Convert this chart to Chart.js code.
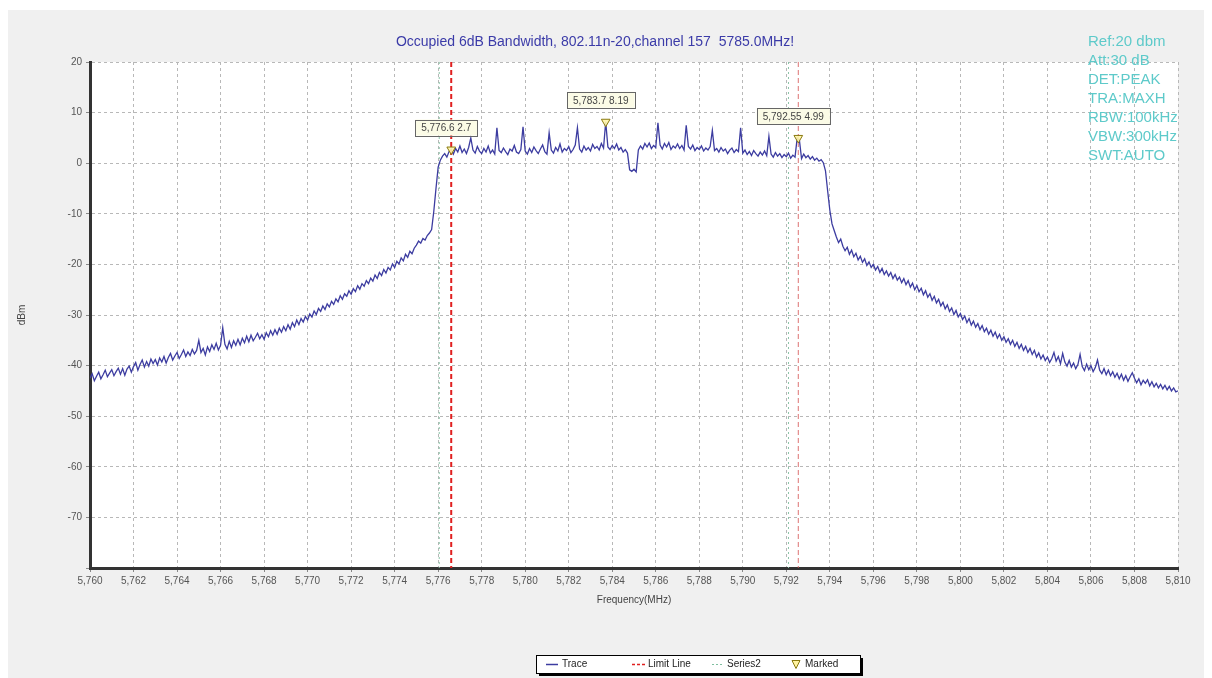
<!DOCTYPE html>
<html>
<head>
<meta charset="utf-8">
<script src="https://cdn.jsdelivr.net/npm/chart.js@4.4.0/dist/chart.umd.min.js"></script>
<style>
  html, body { margin: 0; padding: 0; background: #fff; }
  #wrap { position: absolute; left: 0; top: 0; width: 1212px; height: 678px; }
</style>
</head>
<body>
<div id="wrap"><canvas id="spectrum" width="1212" height="678"></canvas></div>
<script>
// trace sampled every 0.1 MHz from 5760.0 to 5810.0 (one row = 1 MHz)
const freqStart = 5760;
const freqStep = 0.1;
const traceDbm = [
  -42.5, -41.6, -43.0, -42.1, -41.3, -42.6, -41.8, -40.9, -42.2, -41.5,
  -40.8, -42.0, -41.2, -40.5, -41.7, -40.6, -41.9, -40.7, -40.1, -41.3,
  -40.2, -39.4, -40.9, -39.8, -38.9, -40.3, -39.2, -40.1, -38.7, -39.6,
  -38.8, -39.9, -38.5, -39.3, -38.2, -39.5, -38.4, -37.6, -38.9, -38.1,
  -37.4, -38.6, -37.8, -36.9, -38.2, -37.3, -38.0, -36.8, -37.7, -37.0,
  -35.0, -37.4, -36.6, -37.9, -36.3, -37.2, -35.9, -36.8, -35.6, -36.9,
  -36.0, -32.5, -35.8, -36.7, -35.2, -36.4, -35.1, -36.0, -34.8, -35.9,
  -34.6, -35.5, -34.2, -35.3, -34.0, -35.1, -34.4, -33.6, -34.7, -33.9,
  -34.8, -33.5, -34.3, -33.1, -34.0, -32.9, -33.8, -32.6, -33.4, -32.3,
  -33.1, -31.9, -32.8, -31.5, -32.3, -31.0, -31.9, -30.7, -31.4, -30.3,
  -31.0, -29.8, -30.4, -29.2, -29.9, -28.7, -29.3, -28.2, -28.9, -27.8,
  -28.4, -27.3, -27.9, -26.8, -27.4, -26.2, -26.9, -25.8, -26.3, -25.2,
  -25.9, -24.8, -25.4, -24.2, -24.9, -23.8, -24.3, -23.2, -23.8, -22.7,
  -23.3, -22.1, -22.8, -21.6, -22.2, -21.0, -21.7, -20.6, -21.1, -19.9,
  -20.6, -19.4, -19.9, -18.7, -19.3, -18.0, -18.6, -17.4, -17.9, -16.8,
  -16.2, -15.4, -15.8, -14.9, -15.2, -14.3, -13.8, -13.1, -9.5, -5.0,
  -0.8, 0.6, 1.4, 1.9, 1.2, 2.3, 2.7, 1.8, 2.9, 2.2,
  3.4, 2.1, 2.8, 1.9, 3.1, 5.0, 2.6, 2.0, 3.3, 2.4,
  1.9, 2.9, 2.2, 3.4, 2.0, 2.6, 1.8, 7.0, 2.5, 2.1,
  3.0, 2.3, 1.7, 2.8, 2.4, 3.5, 2.2, 1.9, 2.7, 7.2,
  2.4, 1.8, 2.9, 2.1, 3.2, 2.5, 1.9, 2.8, 3.6, 2.3,
  1.8, 6.0, 2.6, 2.0, 3.1, 2.4, 3.8, 2.2, 2.9, 2.5,
  3.3, 2.1, 2.7, 3.6, 7.0, 2.8, 2.2, 3.4, 2.6, 3.1,
  2.4, 3.7, 2.9, 3.3, 2.6, 3.9, 3.0, 8.19, 3.2, 2.7,
  3.5, 2.9, 3.8, 2.6, 3.1, 2.2, 2.7, 2.0, -1.3, -1.6,
  -1.2, -1.7, 2.6, 3.4, 2.8, 3.9, 3.2, 4.0, 2.9, 3.5,
  3.1, 8.0, 3.6, 2.8, 3.9, 3.2, 4.1, 2.7, 3.4, 3.0,
  3.8, 2.9, 3.5, 2.6, 7.5, 3.3, 2.8, 3.6, 2.5, 3.1,
  2.7, 3.4, 2.4, 3.0, 2.6, 3.3, 6.5, 2.5, 2.9, 2.2,
  3.1, 2.4, 2.8, 1.9, 2.6, 3.0, 2.1, 2.7, 2.3, 7.0,
  2.0, 2.6, 1.7, 2.3, 1.5, 2.5, 1.9, 1.4, 2.2, 1.6,
  2.4, 1.5, 5.3, 1.8, 1.2, 2.1, 1.4, 1.9, 1.1, 1.7,
  1.3, 2.0, 1.0, 1.6, 1.2, 4.99, 4.6, 0.9, 1.8, 1.1,
  1.5, 0.8, 1.3, 0.6, 1.0, 0.4, 0.7, 0.1, -1.5, -5.5,
  -9.3, -12.0, -13.3, -14.6, -15.7, -15.0, -16.4, -17.3, -16.6, -18.0,
  -17.2, -18.5, -17.8, -19.1, -18.4, -19.6, -18.9, -20.2, -19.5, -20.6,
  -20.0, -21.1, -20.4, -21.6, -20.8, -22.0, -21.3, -22.3, -21.6, -22.8,
  -22.0, -23.1, -22.5, -23.6, -22.8, -24.0, -23.2, -24.5, -23.7, -25.0,
  -24.2, -25.4, -24.7, -26.0, -25.2, -26.5, -25.8, -27.1, -26.3, -27.6,
  -26.9, -28.2, -27.5, -28.8, -28.0, -29.3, -28.6, -29.9, -29.1, -30.4,
  -29.7, -30.9, -30.2, -31.5, -30.7, -32.0, -31.2, -32.4, -31.7, -32.9,
  -32.1, -33.3, -32.6, -33.8, -33.0, -34.2, -33.4, -34.6, -33.8, -35.0,
  -34.3, -35.4, -34.7, -35.8, -35.0, -36.2, -35.4, -36.6, -35.8, -37.0,
  -36.2, -37.4, -36.6, -37.8, -37.0, -38.3, -37.5, -38.7, -37.9, -39.0,
  -38.3, -39.4, -38.6, -37.4, -39.1, -38.2, -39.6, -37.6, -39.3, -40.1,
  -39.0, -40.3, -39.5, -40.6, -39.8, -37.8, -40.2, -41.0, -39.7, -40.8,
  -40.0, -41.2, -40.4, -38.9, -40.9, -41.6, -40.6, -41.8, -40.9, -42.0,
  -41.2, -42.3, -41.5, -42.6, -41.7, -42.9, -42.0, -43.1, -42.2, -41.4,
  -42.5, -43.4, -42.6, -43.8, -42.9, -43.5, -42.8, -44.0, -43.2, -44.2,
  -43.5, -44.4, -43.7, -44.6, -43.9, -44.8, -44.1, -45.0, -44.4, -45.2,
  -45.0
];

const limitFreqs = [5776.6, 5792.55];
const series2Freqs = [5776.05, 5792.1];
const markerFreqs = [5776.6, 5783.7, 5792.55];
const markerDbm = [2.7, 8.19, 4.99];
const markerText = ['5,776.6 2.7', '5,783.7 8.19', '5,792.55 4.99'];

const xTicks = [5760, 5762, 5764, 5766, 5768, 5770, 5772, 5774, 5776, 5778, 5780, 5782, 5784,
  5786, 5788, 5790, 5792, 5794, 5796, 5798, 5800, 5802, 5804, 5806, 5808, 5810];
const yTicks = [20, 10, 0, -10, -20, -30, -40, -50, -60, -70, -80];

const titleText = 'Occupied 6dB Bandwidth, 802.11n-20,channel 157  5785.0MHz!';
const infoLines = ['Ref:20 dbm', 'Att:30 dB', 'DET:PEAK', 'TRA:MAXH', 'RBW:100kHz', 'VBW:300kHz', 'SWT:AUTO'];

const FONT = '"Liberation Sans", Arial, sans-serif';

const tracePoints = traceDbm.map((v, i) => ({ x: +(freqStart + i * freqStep).toFixed(2), y: v }));

function vLines(freqs) {
  const pts = [];
  freqs.forEach((f, i) => {
    if (i > 0) pts.push({ x: f, y: null });
    pts.push({ x: f, y: 20 }, { x: f, y: -80 });
  });
  return pts;
}

const fmt = v => v.toLocaleString('en-US');

const decorPlugin = {
  id: 'decor',
  beforeDraw(chart) {
    const c = chart.ctx, a = chart.chartArea;
    c.save();
    c.fillStyle = '#ffffff';
    c.fillRect(0, 0, chart.width, chart.height);
    c.fillStyle = '#f0f0f0';
    c.fillRect(8, 10, 1196, 668);
    c.fillStyle = '#ffffff';
    c.fillRect(a.left, a.top, a.right - a.left, a.bottom - a.top);
    c.restore();
  },
  afterDatasetsDraw(chart) {
    const c = chart.ctx;
    const xs = chart.scales.x, ys = chart.scales.y;
    c.save();
    c.font = '10px ' + FONT;
    c.textAlign = 'center';
    c.textBaseline = 'middle';
    markerFreqs.forEach((f, i) => {
      const px = xs.getPixelForValue(f) - 5;
      const py = ys.getPixelForValue(markerDbm[i]) - 22;
      const w = c.measureText(markerText[i]).width + 12;
      c.fillStyle = '#fbfbe6';
      c.fillRect(px - w / 2, py - 8, w, 16);
      c.strokeStyle = '#666';
      c.lineWidth = 1;
      c.strokeRect(Math.round(px - w / 2) + 0.5, Math.round(py - 8) + 0.5, Math.round(w), 16);
      c.fillStyle = '#444';
      c.fillText(markerText[i], px, py + 1);
    });
    c.restore();
  },
  afterDraw(chart) {
    const c = chart.ctx;
    c.save();
    // title
    c.font = '14px ' + FONT;
    c.fillStyle = '#3b3ba8';
    c.textAlign = 'center';
    c.textBaseline = 'middle';
    c.fillText(titleText, 595, 42);
    // instrument settings
    c.font = '15px ' + FONT;
    c.fillStyle = '#5ecaca';
    c.textAlign = 'left';
    infoLines.forEach((t, i) => c.fillText(t, 1088, 42 + i * 19));
    // legend box
    const lx = 536, ly = 655, lw = 324, lh = 18;
    c.fillStyle = '#000';
    c.fillRect(lx + 3, ly + 3, lw, lh);
    c.fillStyle = '#fff';
    c.fillRect(lx, ly, lw, lh);
    c.strokeStyle = '#000';
    c.lineWidth = 1;
    c.strokeRect(lx + 0.5, ly + 0.5, lw, lh);
    const my = ly + lh / 2 + 0.5;
    c.font = '10px ' + FONT;
    c.fillStyle = '#222';
    c.textBaseline = 'middle';
    // Trace
    c.strokeStyle = '#3c3ca0'; c.lineWidth = 1.5; c.setLineDash([]);
    c.beginPath(); c.moveTo(546, my); c.lineTo(558, my); c.stroke();
    c.fillText('Trace', 562, my);
    // Limit Line
    c.strokeStyle = '#e02020'; c.lineWidth = 1.5; c.setLineDash([3, 2]);
    c.beginPath(); c.moveTo(632, my); c.lineTo(645, my); c.stroke();
    c.fillText('Limit Line', 648, my);
    // Series2
    c.strokeStyle = '#7fbfa0'; c.lineWidth = 1; c.setLineDash([2, 2]);
    c.beginPath(); c.moveTo(712, my); c.lineTo(724, my); c.stroke();
    c.fillText('Series2', 727, my);
    // Marked
    c.setLineDash([]);
    c.strokeStyle = '#8a7a10'; c.fillStyle = '#fff3a0'; c.lineWidth = 1;
    c.beginPath(); c.moveTo(792, my - 4); c.lineTo(800, my - 4); c.lineTo(796, my + 4); c.closePath();
    c.fill(); c.stroke();
    c.fillStyle = '#222';
    c.fillText('Marked', 805, my);
    c.restore();
  }
};

new Chart(document.getElementById('spectrum'), {
  type: 'line',
  data: {
    datasets: [
      {
        label: 'Marked',
        data: markerFreqs.map((f, i) => ({ x: f, y: markerDbm[i] })),
        showLine: false,
        pointStyle: 'triangle',
        rotation: 180,
        pointRadius: 5,
        pointBackgroundColor: 'rgba(255,245,170,0.9)',
        pointBorderColor: '#8a7a10',
        pointBorderWidth: 1,
        order: 0
      },
      {
        label: 'Limit Line',
        data: vLines(limitFreqs),
        borderColor: '#e02020',
        borderWidth: 2,
        borderDash: [5, 3],
        pointRadius: 0,
        spanGaps: false,
        segment: {
          borderColor: ctx => ctx.p0.parsed.x > 5780 ? 'rgba(215,90,90,0.85)' : '#e02020',
          borderWidth: ctx => ctx.p0.parsed.x > 5780 ? 1 : 2
        },
        order: 1
      },
      {
        label: 'Trace',
        data: tracePoints,
        borderColor: '#3c3ca0',
        borderWidth: 1.3,
        pointRadius: 0,
        tension: 0,
        order: 2
      },
      {
        label: 'Series2',
        data: vLines(series2Freqs),
        borderColor: '#8cc4a8',
        borderWidth: 1,
        borderDash: [2, 3],
        pointRadius: 0,
        spanGaps: false,
        order: 3
      }
    ]
  },
  options: {
    responsive: false,
    animation: false,
    events: [],
    layout: { padding: { left: 12, right: 34, top: 62, bottom: 68 } },
    plugins: {
      legend: { display: false },
      title: { display: false },
      tooltip: { enabled: false }
    },
    scales: {
      x: {
        type: 'linear',
        min: 5760,
        max: 5810,
        afterBuildTicks: s => { s.ticks = xTicks.map(v => ({ value: v })); },
        afterFit: s => { s.height = 42; },
        ticks: {
          color: '#555',
          font: { family: FONT, size: 10 },
          padding: 3,
          maxRotation: 0,
          autoSkip: false,
          callback: v => fmt(v)
        },
        grid: {
          color: '#b8b8b8',
          tickColor: '#888',
          tickLength: 4,
          lineWidth: 1
        },
        border: { color: '#333', width: 3, dash: [3, 3] },
        title: {
          display: true,
          text: 'Frequency(MHz)',
          color: '#444',
          font: { family: FONT, size: 10 },
          padding: { top: 2, bottom: 4 }
        }
      },
      y: {
        type: 'linear',
        min: -80,
        max: 20,
        afterBuildTicks: s => { s.ticks = yTicks.map(v => ({ value: v })); },
        afterFit: s => { s.width = 78; },
        ticks: {
          color: '#555',
          font: { family: FONT, size: 10 },
          padding: 4,
          callback: v => v === -80 ? '' : String(v)
        },
        grid: {
          color: '#b8b8b8',
          tickColor: '#888',
          tickLength: 4,
          lineWidth: 1
        },
        border: { color: '#333', width: 3, dash: [3, 3] },
        title: {
          display: true,
          text: 'dBm',
          color: '#444',
          font: { family: FONT, size: 10 },
          padding: { top: 4, bottom: 4 }
        }
      }
    }
  },
  plugins: [decorPlugin]
});
</script>
</body>
</html>
